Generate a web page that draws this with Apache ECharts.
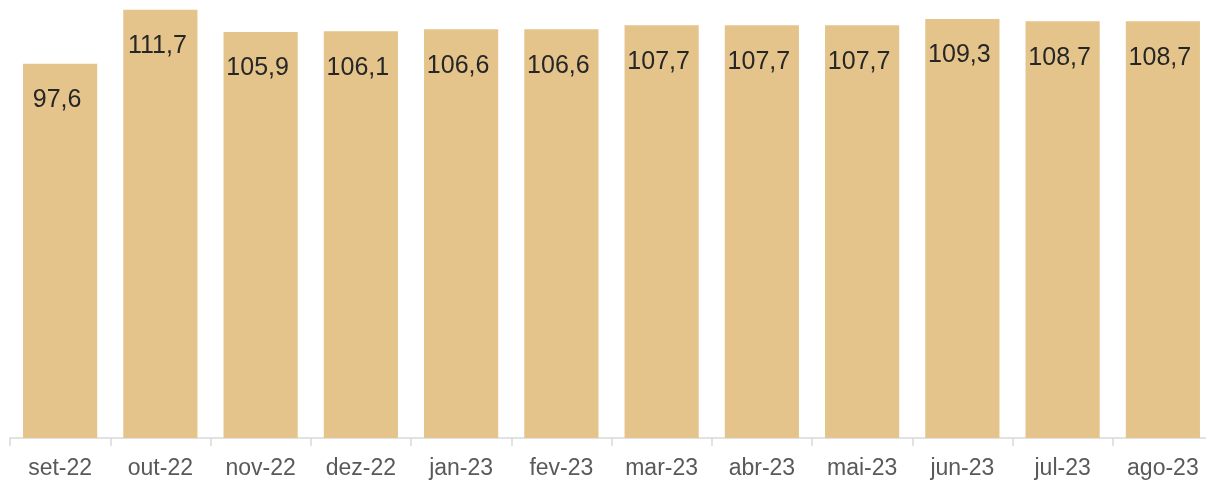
<!DOCTYPE html>
<html>
<head>
<meta charset="utf-8">
<script src="https://cdn.jsdelivr.net/npm/echarts@6/dist/echarts.min.js"></script>
<style>
  html, body { margin: 0; padding: 0; background: #ffffff; overflow: hidden; }
  #chart { width: 1213px; height: 480px; }
</style>
</head>
<body>
<div id="chart"></div>
<script>
// Monthly index, Sept 2022 – Aug 2023
const months = ['set-22', 'out-22', 'nov-22', 'dez-22', 'jan-23', 'fev-23',
                'mar-23', 'abr-23', 'mai-23', 'jun-23', 'jul-23', 'ago-23'];
const values = [97.6, 111.7, 105.9, 106.1, 106.6, 106.6,
                107.7, 107.7, 107.7, 109.3, 108.7, 108.7];

const fmt = v => v.toFixed(1).replace('.', ',');

const chart = echarts.init(document.getElementById('chart'), null, { renderer: 'canvas' });
chart.setOption({
  animation: false,
  backgroundColor: '#ffffff',
  grid: { left: 10, right: 0, top: 1, bottom: 41, containLabel: false },
  xAxis: {
    type: 'category',
    data: months,
    axisLine: { show: true, lineStyle: { color: '#d9d9d9', width: 1.5 } },
    axisTick: { show: true, length: 8, lineStyle: { color: '#d9d9d9', width: 1.5 } },
    axisLabel: {
      color: '#595959',
      fontFamily: 'Liberation Sans, Arial, sans-serif',
      fontSize: 23,
      margin: 19
    }
  },
  yAxis: {
    type: 'value',
    min: 0,
    max: 114,
    show: false,
    splitLine: { show: false }
  },
  series: [{
    type: 'bar',
    data: values,
    barWidth: '74%',
    itemStyle: { color: '#e4c48b' },
    label: {
      show: true,
      position: 'insideTop',
      distance: 24,
      offset: [-3, 0],
      color: '#262626',
      fontFamily: 'Liberation Sans, Arial, sans-serif',
      fontSize: 25,
      formatter: p => fmt(p.value)
    }
  }]
});
</script>
</body>
</html>
